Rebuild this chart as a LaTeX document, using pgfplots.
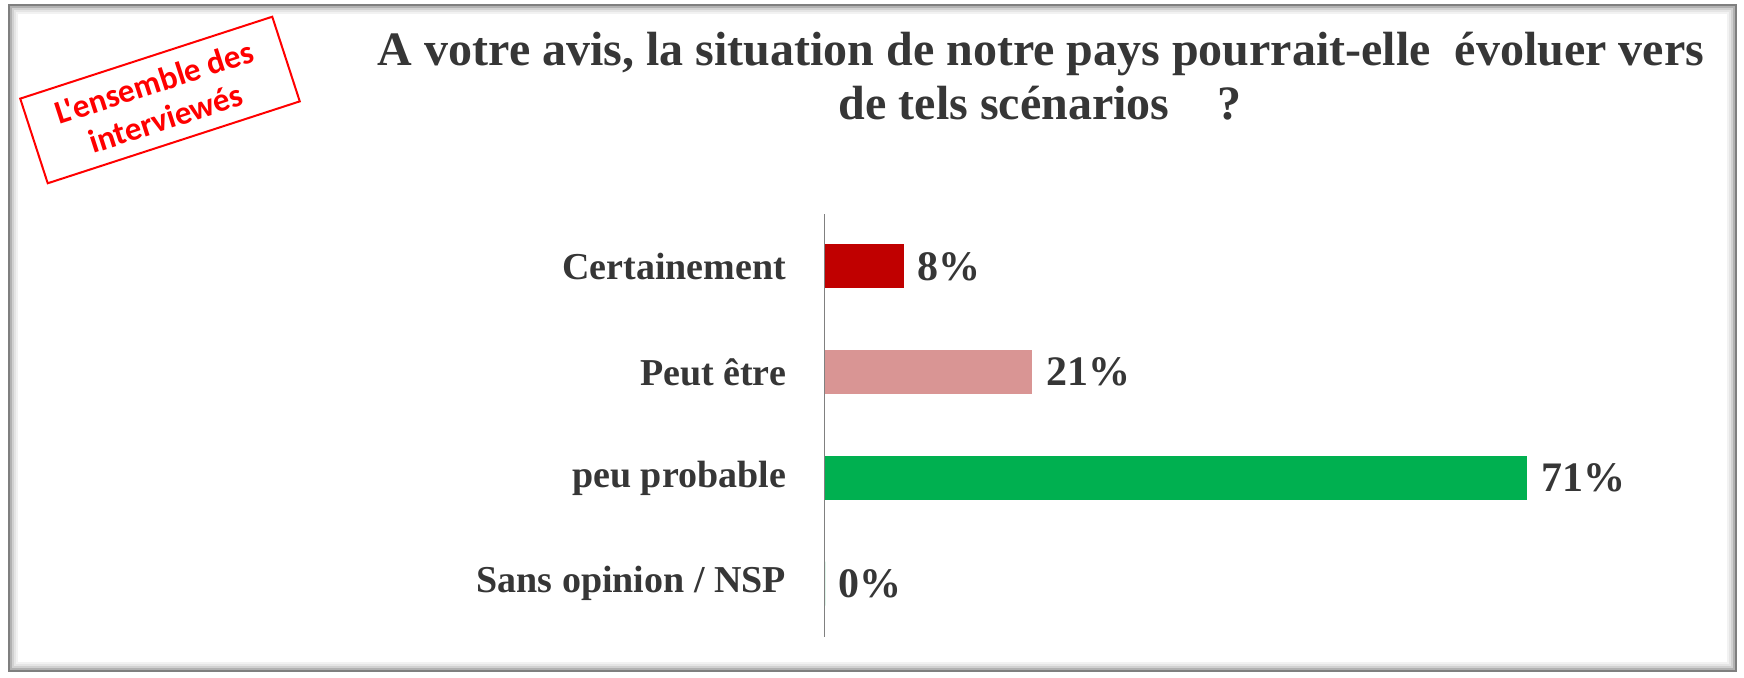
\documentclass[border=0pt]{standalone}
\usepackage{fontspec}
\setmainfont{Liberation Serif}
\newfontfamily\calib{Carlito}
\usepackage{pgfplots}
\pgfplotsset{compat=1.18}

\definecolor{txt}{HTML}{363636}
\definecolor{cRed}{HTML}{C00000}
\definecolor{cPink}{HTML}{D99594}
\definecolor{cGreen}{HTML}{00B050}
\definecolor{stamp}{HTML}{FF0000}

\begin{document}
\begin{tikzpicture}[x=1pt,y=1pt]
\path (0,0) rectangle (1744,-677);
% frame with soft inner shadow
\foreach \i/\o in {0/0.5,2/0.3,4/0.18,6/0.1,8/0.05} {
  \draw[black,opacity=\o,line width=2pt] (9+\i,-5-\i) rectangle (1736-\i,-671+\i);
}

% title
\node[anchor=base, font=\bfseries\fontsize{48}{54}\selectfont, text=txt] at (1041,-65)
  {A votre avis, la situation de notre pays pourrait-elle\ \ évoluer vers};
\node[anchor=base, font=\bfseries\fontsize{48}{54}\selectfont, text=txt] at (1040,-119)
  {de tels scénarios\ \ \ \ ?};

% stamp
\node[draw=stamp, line width=2pt, rotate=18, minimum width=265pt, minimum height=89pt,
  text=stamp, font=\calib\bfseries\fontsize{33}{38}\selectfont, align=center]
  at (160,-100) {L'ensemble des\\interviewés};

\begin{axis}[
  at={(833,-552)}, anchor=origin,
  width=876pt, height=423pt, scale only axis,
  xmin=0, xmax=88.5, ymin=-0.5, ymax=3.5,
  hide x axis,
  axis y line*=left,
  y axis line style={draw=gray, line width=1.5pt},
  ytick={0,1,2,3},
  yticklabels={Sans opinion / NSP, peu probable, Peut être, Certainement},
  major tick length=0pt,
  yticklabel style={font=\bfseries\fontsize{38}{40}\selectfont, text=txt, xshift=-35pt},
  xbar, bar width=44pt, bar shift=0pt,
  point meta=x,
  nodes near coords={\pgfmathprintnumber[assume math mode=true]{\pgfplotspointmeta}\%},
  nodes near coords style={font=\bfseries\fontsize{42}{44}\selectfont, text=txt,
    inner sep=0pt, anchor=west, xshift=14pt},
]
\addplot[fill=cRed, draw=none] coordinates {(8,3)};
\addplot[fill=cPink, draw=none] coordinates {(21,2)};
\addplot[fill=cGreen, draw=none] coordinates {(71,1)};
\addplot[fill=cGreen, draw=none] coordinates {(0,0)};
\end{axis}
\end{tikzpicture}
\end{document}
